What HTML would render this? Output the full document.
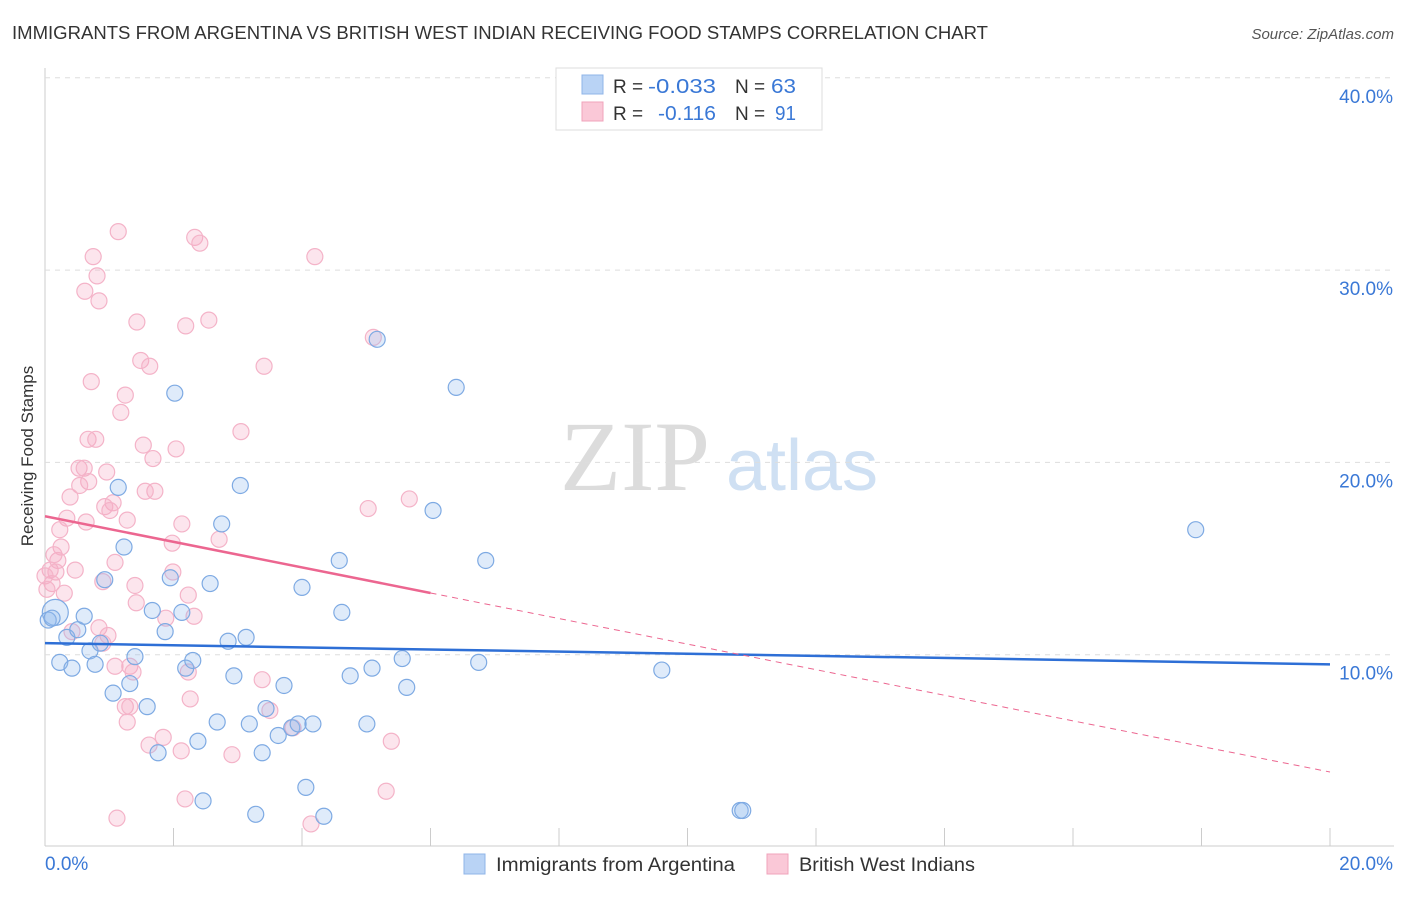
<!DOCTYPE html>
<html><head><meta charset="utf-8"><style>
body{margin:0;background:#fff;font-family:"Liberation Sans",sans-serif;}
</style></head><body>
<svg id="chart" width="1406" height="892" style="font-family:'Liberation Sans',sans-serif">
<text x="12" y="39" font-size="18" fill="#333" textLength="976" lengthAdjust="spacingAndGlyphs">IMMIGRANTS FROM ARGENTINA VS BRITISH WEST INDIAN RECEIVING FOOD STAMPS CORRELATION CHART</text>
<text x="1394" y="39" font-size="15" fill="#555" font-style="italic" text-anchor="end">Source: ZipAtlas.com</text>
<text x="33" y="456" font-size="17" fill="#333" text-anchor="middle" transform="rotate(-90 33 456)">Receiving Food Stamps</text>
<g id="watermark">
<text x="635" y="490" font-size="100" fill="#dcdcdc" style="font-family:'Liberation Serif',serif" text-anchor="middle">ZIP</text>
<text x="802" y="490" font-size="72" fill="#cfe0f3" text-anchor="middle">atlas</text>
</g>
<g id="grid"></g><g id="pts"></g><g id="trends"></g>
<g>
<rect x="556" y="68" width="266" height="62" fill="#fff" stroke="#ddd"/>
<rect x="582" y="75" width="21" height="19" fill="#b9d3f5" stroke="#8fb5e8"/>
<rect x="582" y="102" width="21" height="19" fill="#fac8d7" stroke="#f0a3bb"/>
<text x="613" y="93" font-size="19" fill="#333">R =</text>
<text x="648" y="93" font-size="20" fill="#3a78d6" textLength="68" lengthAdjust="spacingAndGlyphs">-0.033</text>
<text x="735" y="93" font-size="19" fill="#333">N =</text>
<text x="771" y="93" font-size="20" fill="#3a78d6" textLength="25" lengthAdjust="spacingAndGlyphs">63</text>
<text x="613" y="120" font-size="19" fill="#333">R =</text>
<text x="658" y="120" font-size="20" fill="#3a78d6" textLength="58" lengthAdjust="spacingAndGlyphs">-0.116</text>
<text x="735" y="120" font-size="19" fill="#333">N =</text>
<text x="775" y="120" font-size="20" fill="#3a78d6" textLength="21" lengthAdjust="spacingAndGlyphs">91</text>
</g>
<g>
<rect x="464" y="854" width="21" height="20" fill="#b9d3f5" stroke="#8fb5e8"/>
<text x="496" y="871" font-size="19" fill="#333" textLength="239" lengthAdjust="spacingAndGlyphs">Immigrants from Argentina</text>
<rect x="767" y="854" width="21" height="20" fill="#fac8d7" stroke="#f0a3bb"/>
<text x="799" y="871" font-size="19" fill="#333" textLength="176" lengthAdjust="spacingAndGlyphs">British West Indians</text>
</g>
</svg>
<script>
const yTicks=[10,20,30,40];
const xTickCount=10;
const blueX=[0.16,0.23,0.42,0.34,0.51,0.61,0.70,0.78,0.86,0.93,1.06,1.14,1.23,1.32,1.40,1.59,1.67,1.76,1.87,1.95,2.02,2.13,2.19,2.30,2.38,2.46,2.57,2.68,2.75,2.85,2.94,3.04,3.13,3.18,3.28,3.38,3.44,3.63,3.72,3.84,3.94,4.00,4.06,4.17,4.34,4.58,4.62,4.75,5.01,5.09,5.17,5.56,5.63,6.04,6.40,6.75,6.86,9.60,10.82,10.86,17.91,0.05,0.11];
const blueY=[12.2,9.6,9.3,10.9,11.3,12.0,10.2,9.5,10.6,13.9,8.0,18.7,15.6,8.5,9.9,7.3,12.3,4.9,11.2,14.0,23.6,12.2,9.3,9.7,5.5,2.4,13.7,6.5,16.8,10.7,8.9,18.8,10.9,6.4,1.7,4.9,7.2,5.8,8.4,6.2,6.4,13.5,3.1,6.4,1.6,14.9,12.2,8.9,6.4,9.3,26.4,9.8,8.3,17.5,23.9,9.6,14.9,9.2,1.9,1.9,16.5,11.8,11.9];
const pinkX=[1.14,0.75,0.81,0.62,0.84,2.33,2.41,4.20,1.43,2.19,2.55,5.11,1.49,1.63,0.72,3.41,1.25,1.18,0.67,0.79,1.53,2.04,3.05,1.68,0.53,0.61,0.96,0.68,0.54,0.39,1.06,1.71,1.56,0.93,1.01,1.28,0.34,0.64,2.13,2.71,0.23,1.98,0.25,0.20,0.08,0.17,0.47,1.09,0.90,1.40,1.99,0.11,0.30,2.23,1.42,1.88,2.32,0.84,0.98,0.42,1.32,0.90,1.09,2.23,1.37,2.26,1.25,1.32,1.28,1.84,1.62,2.12,2.91,3.50,3.38,3.86,5.03,5.67,5.39,2.18,5.31,4.14,1.12,0.0,0.03,0.14];
const pinkY=[32.0,30.7,29.7,28.9,28.4,31.7,31.4,30.7,27.3,27.1,27.4,26.5,25.3,25.0,24.2,25.0,23.5,22.6,21.2,21.2,20.9,20.7,21.6,20.2,19.7,19.7,19.5,19.0,18.8,18.2,17.9,18.5,18.5,17.7,17.5,17.0,17.1,16.9,16.8,16.0,16.5,15.8,15.6,14.9,14.4,14.3,14.4,14.8,13.8,13.6,14.3,13.7,13.2,13.1,12.7,11.9,12.0,11.4,11.0,11.2,9.4,10.6,9.4,9.1,9.1,7.7,7.3,7.3,6.5,5.7,5.3,5.0,4.8,7.1,8.7,6.2,17.6,18.1,5.5,2.5,2.9,1.2,1.5,14.1,13.4,15.2];
const blueTrend=[10.6,9.5];
const pinkTrend=[17.2,3.9];
const pinkSolidEnd=6.0;

const X=v=>45+v*64.25, Y=v=>847-v*19.23;
const NS='http://www.w3.org/2000/svg';
function mk(t,a,p){const e=document.createElementNS(NS,t);for(const k in a)e.setAttribute(k,a[k]);p.appendChild(e);return e;}
const grid=document.getElementById('grid');
mk('line',{x1:45,y1:68,x2:45,y2:846,stroke:'#ccc'},grid);
mk('line',{x1:45,y1:846,x2:1394,y2:846,stroke:'#ccc'},grid);
yTicks.forEach(t=>{
  const g=mk('line',{x1:45,y1:Y(t),x2:1394,y2:Y(t),stroke:'#ddd','stroke-dasharray':'5,5'},grid);
  
  
  const tx=mk('text',{x:1393,y:Y(t)+25,'font-size':19,fill:'#3a78d6','text-anchor':'end'},grid);
  tx.textContent=t.toFixed(1)+'%';
  
  
});
for(let i=0;i<=xTickCount;i++){
  const v=i*2;
  const tk=mk('line',{x1:X(v),y1:828,x2:X(v),y2:846,stroke:'#ccc'},grid);
  
  
}
let t0=mk('text',{x:45,y:870,'font-size':19,fill:'#3a78d6'},grid);t0.textContent='0.0%';


let t1=mk('text',{x:1393,y:870,'font-size':19,fill:'#3a78d6','text-anchor':'end'},grid);t1.textContent='20.0%';



const pts=document.getElementById('pts');
pinkX.forEach((x,i)=>{
  const c=mk('circle',{cx:X(x),cy:Y(pinkY[i]),r:8,fill:'rgba(246,170,195,0.3)',stroke:'#f4b3c8','stroke-width':1.2},pts);
  
  
});
blueX.forEach((x,i)=>{
  const c=mk('circle',{cx:X(x),cy:Y(blueY[i]),r:i===0?13:8,fill:'rgba(150,190,240,0.3)',stroke:'#7eaae3','stroke-width':1.2},pts);
  
  
});
const tr=document.getElementById('trends');
const pf=v=>pinkTrend[0]+(pinkTrend[1]-pinkTrend[0])*v/20;
let l1=mk('line',{x1:X(0),y1:Y(blueTrend[0]),x2:X(20),y2:Y(blueTrend[1]),stroke:'#2e6fd6','stroke-width':2.5},tr);


let l2=mk('line',{x1:X(0),y1:Y(pf(0)),x2:X(pinkSolidEnd),y2:Y(pf(pinkSolidEnd)),stroke:'#ec6690','stroke-width':2.5},tr);


let l3=mk('line',{x1:X(pinkSolidEnd),y1:Y(pf(pinkSolidEnd)),x2:X(20),y2:Y(pf(20)),stroke:'#ec6690','stroke-width':1,'stroke-dasharray':'6,5'},tr);


</script>
</body></html>
